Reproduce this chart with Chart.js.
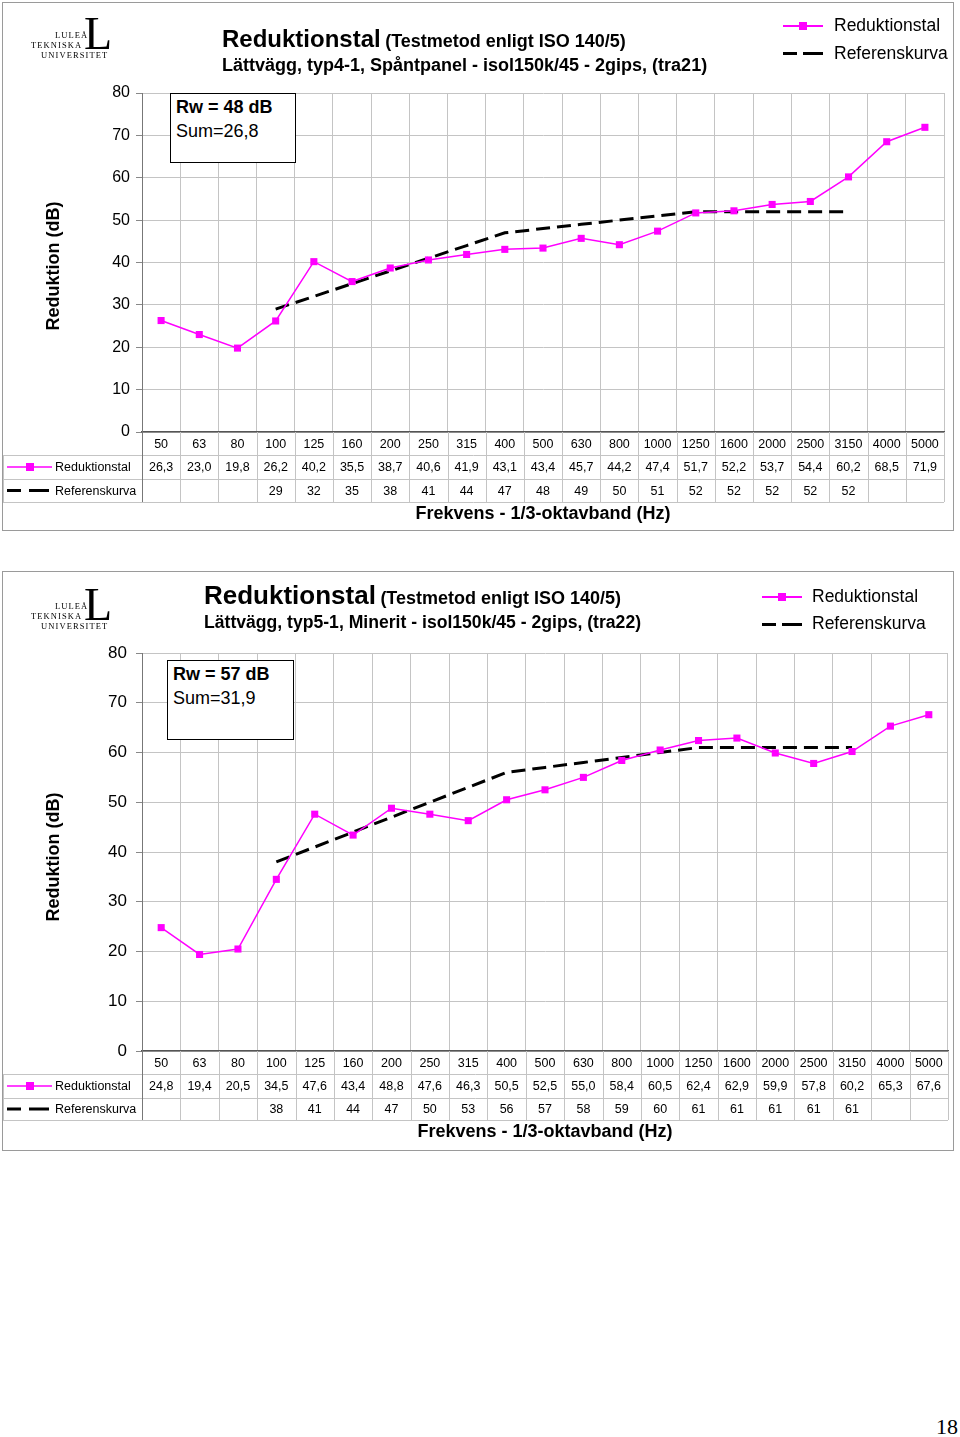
<!DOCTYPE html>
<html lang="sv">
<head>
<meta charset="UTF-8">
<title>Reduktionstal</title>
<script src="https://cdn.jsdelivr.net/npm/chart.js"></script>
<style>
  body { margin: 0; background: #fff; width: 960px; height: 1437px; position: relative; font-family: "Liberation Sans", Arial, sans-serif; color: #000; }
  .abs { position: absolute; white-space: nowrap; }
  .frame { position: absolute; border: 1px solid #9a9a9a; box-sizing: border-box; }
  .title b.big { font-size: 24px; }
  .title b.small { font-size: 18px; }
  .sub { font-size: 18px; font-weight: bold; }
  .leg { font-size: 17.5px; }
  .rw { position: absolute; border: 1.5px solid #000; background: #fff; box-sizing: border-box; font-size: 18px; }
  .ytitle { position: absolute; font-size: 18px; font-weight: bold; transform: translate(-50%, -50%) rotate(-90deg); white-space: nowrap; }
  .logo { position: absolute; font-family: "Liberation Serif", "DejaVu Serif", serif; }
  .logo .s { position: absolute; font-size: 8.5px; letter-spacing: 1.1px; white-space: nowrap; }
  .logo .L { position: absolute; font-size: 46px; line-height: 1; }
  .sym { position: absolute; height: 2px; }
</style>
</head>
<body>

<div class="frame" style="left:2px;top:2px;width:952px;height:529px"></div>
<div class="frame" style="left:2px;top:571px;width:952px;height:580px"></div>

<canvas id="c1" width="951" height="527" class="abs" style="left:2px;top:3px"></canvas>
<canvas id="c2" width="951" height="578" class="abs" style="left:2px;top:572px"></canvas>

<!-- chart 1 text -->
<div class="logo" style="left:0;top:0">
  <span class="s" style="left:55px;top:30px">LULEÅ</span>
  <span class="s" style="left:31px;top:40px">TEKNISKA</span>
  <span class="s" style="left:41px;top:50px">UNIVERSITET</span>
  <span class="L" style="left:84px;top:11px">L</span>
</div>
<div class="abs title" style="left:222px;top:25px"><b class="big">Reduktionstal</b> <b class="small">(Testmetod enligt ISO 140/5)</b></div>
<div class="abs sub" style="left:222px;top:55px">Lättvägg, typ4-1, Spåntpanel - isol150k/45 - 2gips, (tra21)</div>
<div class="sym" style="left:783px;top:25px;width:40px;background:#ff00ff"></div>
<div class="sym" style="left:799px;top:22px;width:8px;height:8px;background:#ff00ff"></div>
<div class="abs leg" style="left:834px;top:15px">Reduktionstal</div>
<div class="sym" style="left:783px;top:52px;width:14px;height:3px;background:#000"></div>
<div class="sym" style="left:803px;top:52px;width:20px;height:3px;background:#000"></div>
<div class="abs leg" style="left:834px;top:43px">Referenskurva</div>
<div class="rw" style="left:170px;top:93px;width:126px;height:70px">
  <div class="abs" style="left:5px;top:3px;font-weight:bold">Rw = 48 dB</div>
  <div class="abs" style="left:5px;top:27px">Sum=26,8</div>
</div>
<div class="ytitle" style="left:53px;top:266px">Reduktion (dB)</div>

<!-- chart 2 text -->
<div class="logo" style="left:0;top:571px">
  <span class="s" style="left:55px;top:30px">LULEÅ</span>
  <span class="s" style="left:31px;top:40px">TEKNISKA</span>
  <span class="s" style="left:41px;top:50px">UNIVERSITET</span>
  <span class="L" style="left:84px;top:11px">L</span>
</div>
<div class="abs title" style="left:204px;top:580px"><b class="big" style="font-size:26px">Reduktionstal</b> <b class="small">(Testmetod enligt ISO 140/5)</b></div>
<div class="abs sub" style="left:204px;top:612px;font-size:17.6px">Lättvägg, typ5-1, Minerit - isol150k/45 - 2gips, (tra22)</div>
<div class="sym" style="left:762px;top:596px;width:40px;background:#ff00ff"></div>
<div class="sym" style="left:778px;top:593px;width:8px;height:8px;background:#ff00ff"></div>
<div class="abs leg" style="left:812px;top:586px">Reduktionstal</div>
<div class="sym" style="left:762px;top:623px;width:14px;height:3px;background:#000"></div>
<div class="sym" style="left:782px;top:623px;width:20px;height:3px;background:#000"></div>
<div class="abs leg" style="left:812px;top:613px">Referenskurva</div>
<div class="rw" style="left:167px;top:660px;width:127px;height:80px">
  <div class="abs" style="left:5px;top:3px;font-weight:bold">Rw = 57 dB</div>
  <div class="abs" style="left:5px;top:27px">Sum=31,9</div>
</div>
<div class="ytitle" style="left:53px;top:857px">Reduktion (dB)</div>

<div class="abs" style="left:936px;top:1414px;font-family:'Liberation Serif',serif;font-size:22px">18</div>

<script>
// frequency bands (Hz)
const freqLabels = ['50','63','80','100','125','160','200','250','315','400','500','630','800','1000','1250','1600','2000','2500','3150','4000','5000'];
const yTicks = [0, 10, 20, 30, 40, 50, 60, 70, 80];

// tra21
const red1 = [26.3, 23.0, 19.8, 26.2, 40.2, 35.5, 38.7, 40.6, 41.9, 43.1, 43.4, 45.7, 44.2, 47.4, 51.7, 52.2, 53.7, 54.4, 60.2, 68.5, 71.9];
const ref1 = [null, null, null, 29, 32, 35, 38, 41, 44, 47, 48, 49, 50, 51, 52, 52, 52, 52, 52, null, null];

// tra22
const red2 = [24.8, 19.4, 20.5, 34.5, 47.6, 43.4, 48.8, 47.6, 46.3, 50.5, 52.5, 55.0, 58.4, 60.5, 62.4, 62.9, 59.9, 57.8, 60.2, 65.3, 67.6];
const ref2 = [null, null, null, 38, 41, 44, 47, 50, 53, 56, 57, 58, 59, 60, 61, 61, 61, 61, 61, null, null];

const MAG = '#ff00ff';
const FONT = '"Liberation Sans", Arial, sans-serif';

// Excel-style data table under the plot
const dataTable = {
  id: 'dataTable',
  afterDraw(chart, args, opts) {
    const { ctx, chartArea: a, scales: { x } } = chart;
    const n = chart.data.labels.length;
    const w = x.width / n;
    const y0 = a.bottom, y1 = y0 + opts.h[0], y2 = y1 + opts.h[1], y3 = y2 + opts.h[2];
    ctx.save();
    ctx.strokeStyle = '#c4c4c4';
    ctx.lineWidth = 1;
    ctx.beginPath();
    [y1, y2, y3].forEach(y => { ctx.moveTo(1, y + 0.5); ctx.lineTo(a.right, y + 0.5); });
    for (let i = 1; i <= n; i++) {
      const gx = Math.round(x.left + i * w) + 0.5;
      ctx.moveTo(gx, y0); ctx.lineTo(gx, y3);
    }
    ctx.moveTo(1.5, y1); ctx.lineTo(1.5, y3);
    ctx.stroke();
    ctx.strokeStyle = '#777';
    ctx.beginPath();
    ctx.moveTo(x.left + 0.5, y0); ctx.lineTo(x.left + 0.5, y3);
    ctx.stroke();

    ctx.fillStyle = '#000';
    ctx.font = '12.5px ' + FONT;
    ctx.textAlign = 'center';
    ctx.textBaseline = 'middle';
    const red = chart.data.datasets[0].data;
    const ref = chart.data.datasets[1].data;
    chart.data.labels.forEach((lab, i) => {
      const cx = x.getPixelForValue(i);
      ctx.fillText(lab, cx, (y0 + y1) / 2 + 1);
      ctx.fillText(red[i].toFixed(1).replace('.', ','), cx, (y1 + y2) / 2 + 1);
      if (ref[i] != null) ctx.fillText(String(ref[i]), cx, (y2 + y3) / 2 + 1);
    });

    // row legends
    const m1 = (y1 + y2) / 2, m2 = (y2 + y3) / 2;
    ctx.strokeStyle = MAG; ctx.lineWidth = 1.5;
    ctx.beginPath(); ctx.moveTo(5, m1); ctx.lineTo(50, m1); ctx.stroke();
    ctx.fillStyle = MAG; ctx.fillRect(24, m1 - 4, 8, 8);
    ctx.fillStyle = '#000';
    ctx.fillRect(5, m2 - 1.5, 14, 3);
    ctx.fillRect(27, m2 - 1.5, 20, 3);
    ctx.textAlign = 'left';
    ctx.font = '12.5px ' + FONT;
    ctx.fillText('Reduktionstal', 53, m1 + 1);
    ctx.fillText('Referenskurva', 53, m2 + 1);

    // axis title
    ctx.textAlign = 'center';
    ctx.font = 'bold 18px ' + FONT;
    ctx.fillText('Frekvens - 1/3-oktavband (Hz)', (a.left + a.right) / 2, y3 + opts.titleGap);
    ctx.restore();
  }
};

function makeChart(id, red, ref, pad, tickFont, tickPad, rowH, titleGap) {
  return new Chart(document.getElementById(id), {
    type: 'line',
    data: {
      labels: freqLabels,
      datasets: [
        {
          label: 'Reduktionstal',
          data: red,
          borderColor: MAG,
          backgroundColor: MAG,
          borderWidth: 1.5,
          pointStyle: 'rect',
          pointRadius: 5,
          pointBorderWidth: 0,
          tension: 0
        },
        {
          label: 'Referenskurva',
          data: ref,
          borderColor: '#000',
          borderWidth: 3,
          borderDash: [14, 7],
          pointRadius: 0,
          spanGaps: false,
          tension: 0
        }
      ]
    },
    options: {
      responsive: false,
      animation: false,
      layout: { padding: pad },
      plugins: {
        legend: { display: false },
        tooltip: { enabled: false },
        dataTable: { h: rowH, titleGap: titleGap }
      },
      scales: {
        x: {
          offset: true,
          grid: { offset: true, color: '#c4c4c4', drawTicks: false },
          border: { color: '#555', width: 1.5 },
          ticks: { display: false },
          afterFit: s => { s.height = 0; }
        },
        y: {
          min: yTicks[0],
          max: yTicks[yTicks.length - 1],
          afterBuildTicks: s => { s.ticks = yTicks.map(v => ({ value: v })); },
          grid: { color: '#c4c4c4', tickLength: 6, tickColor: '#888' },
          border: { color: '#777', width: 1 },
          ticks: { color: '#000', font: { family: FONT, size: tickFont }, padding: tickPad },
          afterFit: s => { s.width = 40; }
        }
      }
    },
    plugins: [dataTable]
  });
}

makeChart('c1', red1, ref1, { left: 100, top: 90, right: 9, bottom: 98 }, 16, 6, [23, 24, 23], 12);
makeChart('c2', red2, ref2, { left: 100, top: 81, right: 3, bottom: 99 }, 17, 9, [23, 24, 22], 12);
</script>
</body>
</html>
